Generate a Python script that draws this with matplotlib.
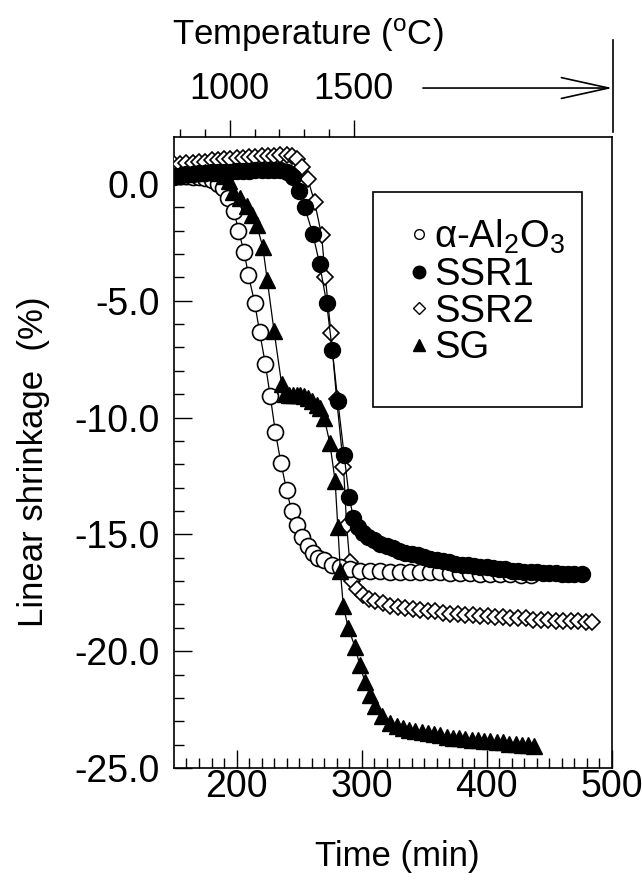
import numpy as np
import matplotlib
matplotlib.use("Agg")
from matplotlib import pyplot as plt
from matplotlib.lines import Line2D
from matplotlib.patches import Rectangle

plt.rcParams['font.family'] = ['Liberation Sans', 'DejaVu Sans']
plt.rcParams['mathtext.fontset'] = 'custom'
plt.rcParams['mathtext.rm'] = 'Liberation Sans'
plt.rcParams['mathtext.it'] = 'Liberation Sans:italic'
plt.rcParams['axes.unicode_minus'] = False

# alpha-Al2O3 (open circles)
t_alpha = [150, 155, 160, 165, 170, 175, 180, 185, 189, 193.5, 198, 201.5, 206, 209.5,
           214.5, 218.5, 223, 227, 231, 235.5, 240, 244, 248.5, 252.5, 257, 261, 265.5,
           270, 276, 283, 291, 299, 307, 315, 323, 331, 339, 347, 355, 363, 371, 379,
           387, 395, 403, 411, 419, 427, 435]
s_alpha = [0.35, 0.35, 0.35, 0.3, 0.3, 0.25, 0.15, 0.0, -0.2, -0.6, -1.15, -2.0, -2.9, -3.9,
           -5.1, -6.35, -7.7, -9.1, -10.6, -11.95, -13.1, -14.0, -14.6, -15.1, -15.5, -15.8, -16.0,
           -16.1, -16.3, -16.4, -16.5, -16.55, -16.55, -16.55, -16.6, -16.6, -16.6, -16.6, -16.6, -16.6, -16.65, -16.65,
           -16.65, -16.7, -16.7, -16.7, -16.7, -16.75, -16.75]

# SSR1 (filled circles)
t_ssr1 = [150, 155, 160, 165, 170, 175, 180, 185, 190, 195, 200, 205, 210, 215, 220, 225,
          230, 235, 240, 245, 250, 254.5, 261, 266.5, 272, 276.5, 281, 286, 290, 293.5,
          297, 301, 305, 310, 315, 320, 325, 330, 335, 340, 345, 350, 355, 360, 365, 370,
          375, 380, 385, 390, 395, 400, 405, 410, 415, 420, 425, 430, 435, 440, 445, 450,
          455, 460, 465, 470, 476]
s_ssr1 = [0.3, 0.35, 0.4, 0.4, 0.45, 0.45, 0.5, 0.5, 0.5, 0.5, 0.55, 0.55, 0.55, 0.6, 0.6, 0.6,
          0.6, 0.6, 0.5, 0.3, -0.3, -1.0, -2.15, -3.45, -5.1, -7.1, -9.3, -11.6, -13.4, -14.3,
          -14.7, -14.95, -15.1, -15.25, -15.4, -15.5, -15.6, -15.7, -15.8, -15.85, -15.9, -15.95, -16.05, -16.1, -16.15, -16.2,
          -16.25, -16.3, -16.3, -16.35, -16.4, -16.4, -16.45, -16.5, -16.5, -16.55, -16.55, -16.6, -16.6, -16.6, -16.65, -16.65,
          -16.65, -16.7, -16.7, -16.7, -16.7]

# SSR2 (open diamonds)
t_ssr2 = [150, 155, 160, 165, 170, 175, 180, 185, 190, 195, 200, 205, 210, 215, 220, 225,
          230, 235, 240, 244, 248, 252.5, 257, 262.5, 268, 271, 275.5, 280, 285.5, 288,
          290.5, 292, 296, 301, 306, 311, 317, 323, 329, 335, 341, 347, 353, 359, 365,
          371, 377, 383, 389, 395, 401, 407, 413, 419, 425, 431, 437, 443, 449, 455, 461,
          467, 473, 479, 484]
s_ssr2 = [0.85, 0.85, 0.9, 0.9, 0.95, 0.95, 1.0, 1.0, 1.05, 1.05, 1.1, 1.1, 1.15, 1.15, 1.2, 1.2,
          1.2, 1.25, 1.25, 1.2, 1.05, 0.7, 0.2, -0.8, -2.2, -4.0, -6.4, -9.2, -12.1, -14.6,
          -16.2, -17.0, -17.35, -17.6, -17.75, -17.85, -17.95, -18.05, -18.1, -18.15, -18.2, -18.25, -18.3, -18.3, -18.35,
          -18.4, -18.4, -18.45, -18.45, -18.5, -18.5, -18.55, -18.55, -18.6, -18.6, -18.6, -18.65, -18.65, -18.65, -18.7, -18.7,
          -18.7, -18.7, -18.75, -18.75]

# SG (filled triangles)
t_sg = [150, 155, 160, 165, 170, 175, 180, 185, 190, 194, 197.5, 203, 208, 212, 216, 221,
        224.5, 230, 236, 239, 242, 245, 248, 251, 254, 257, 260, 264, 267, 270, 274.5,
        278.8, 281, 283, 285.3, 289.3, 294.6, 298.6, 302.6, 306.6, 310.6, 316, 322.6,
        328, 333, 338, 343, 348, 353, 358, 363, 368, 373, 378, 383, 388, 393, 398, 403,
        408, 413, 418, 423, 428, 433, 438]
s_sg = [0.35, 0.4, 0.4, 0.45, 0.45, 0.5, 0.5, 0.45, 0.35, 0.1, -0.35, -0.6, -0.95, -1.35, -1.75, -2.7,
        -4.1, -6.3, -8.55, -9.0, -9.05, -9.05, -9.05, -9.05, -9.1, -9.15, -9.3, -9.45, -9.6, -10.0, -11.07,
        -12.7, -14.7, -16.55, -18.05, -19.0, -19.8, -20.6, -21.3, -21.86, -22.36, -22.79, -23.07,
        -23.2, -23.3, -23.35, -23.4, -23.45, -23.5, -23.55, -23.6, -23.65, -23.7, -23.7, -23.75, -23.8, -23.8, -23.85, -23.85,
        -23.9, -23.9, -23.95, -23.95, -24.0, -24.0, -24.05]

temp_major = [1000, 1500]
temp_minor = [800, 900, 1100, 1200, 1300, 1400]


def t2T(t):
    return 1000 + 5.05 * (np.asarray(t) - 194.6)


def T2t(T):
    return 194.6 + (np.asarray(T) - 1000) / 5.05


fig = plt.figure(figsize=(6.42, 8.90), dpi=100)
ax = fig.add_axes([0.271, 0.137, 0.682, 0.709])

lw = 0.9
ax.plot(t_ssr2, s_ssr2, '-', color='black', lw=lw, marker='D', ms=8.5,
        mfc='white', mec='black', mew=1.2, zorder=3)
ax.plot(t_alpha, s_alpha, '-', color='black', lw=lw, marker='o', ms=11.5,
        mfc='white', mec='black', mew=1.2, zorder=4)
ax.plot(t_ssr1, s_ssr1, '-', color='black', lw=lw, marker='o', ms=11.5,
        mfc='black', mec='black', zorder=5)
ax.plot(t_sg, s_sg, '-', color='black', lw=lw, marker='^', ms=12,
        mfc='black', mec='black', zorder=6)

ax.set_xlim(150, 500)
ax.set_ylim(-25, 2)
ax.set_xticks([200, 300, 400, 500])
ax.set_xticks(np.arange(160, 500, 10), minor=True)
ax.set_yticks([0, -5, -10, -15, -20, -25])
ax.set_yticks(np.arange(-24, 2, 1), minor=True)
ax.yaxis.set_major_formatter(matplotlib.ticker.FormatStrFormatter('%.1f'))
ax.tick_params(which='both', direction='in', top=False, right=False, width=1.0, labelsize=27)
ax.tick_params(which='major', length=13)
ax.tick_params(which='minor', length=7)
ax.tick_params(axis='y', pad=10)
ax.tick_params(axis='x', pad=1)
for sp in ax.spines.values():
    sp.set_linewidth(1.2)

ax.set_xlabel('Time (min)', fontsize=25)
ax.set_ylabel('Linear shrinkage  (%)', fontsize=25)
ax.xaxis.set_label_coords(0.509, -0.114)
ax.yaxis.set_label_coords(-0.283, 0.485)

# temperature axis on top
sec = ax.secondary_xaxis('top', functions=(t2T, T2t))
sec.set_xticks(temp_major)
sec.set_xticks(temp_minor, minor=True)
sec.tick_params(which='both', direction='out', width=1.0, labelsize=26, pad=10)
sec.tick_params(which='major', length=12)
sec.tick_params(which='minor', length=6)
sec.spines['top'].set_visible(False)

fig.text(308 / 642, 1 - 35 / 890, r'Temperature ($^{\mathrm{o}}$C)', fontsize=25,
         ha='center', va='center')

# arrow and end marker for the temperature scale
ax.annotate('', xy=(500.5, 1.0777), xytext=(349, 1.0777),
            xycoords=('data', 'axes fraction'), textcoords=('data', 'axes fraction'),
            arrowprops=dict(arrowstyle='->,head_length=3.4,head_width=0.75',
                            mutation_scale=10, lw=1.2, color='black',
                            shrinkA=0, shrinkB=0))
ax.plot([500.8, 500.8], [1.008, 1.154], color='black', lw=1.2,
        transform=ax.get_xaxis_transform(), clip_on=False)

# legend
ax.add_patch(Rectangle((0.454, 0.572), 0.478, 0.341, transform=ax.transAxes,
                       fill=True, facecolor='white', edgecolor='black', lw=1.2, zorder=7))
handles = [
    Line2D([], [], ls='none', marker='o', ms=7, mfc='white', mec='black', mew=1.0),
    Line2D([], [], ls='none', marker='o', ms=9, mfc='black', mec='black'),
    Line2D([], [], ls='none', marker='D', ms=6, mfc='white', mec='black', mew=1.0),
    Line2D([], [], ls='none', marker='^', ms=9, mfc='black', mec='black'),
]
labels = ['α-Al$_2$O$_3$', 'SSR1', 'SSR2', 'SG']
leg = ax.legend(handles, labels, loc='upper left', bbox_to_anchor=(0.533, 0.872),
                frameon=False, fontsize=27.5, handlelength=0.6, handletextpad=0.1,
                labelspacing=0.02, borderpad=0, borderaxespad=0)
leg.set_zorder(8)

fig.savefig('out.png', dpi=100)
